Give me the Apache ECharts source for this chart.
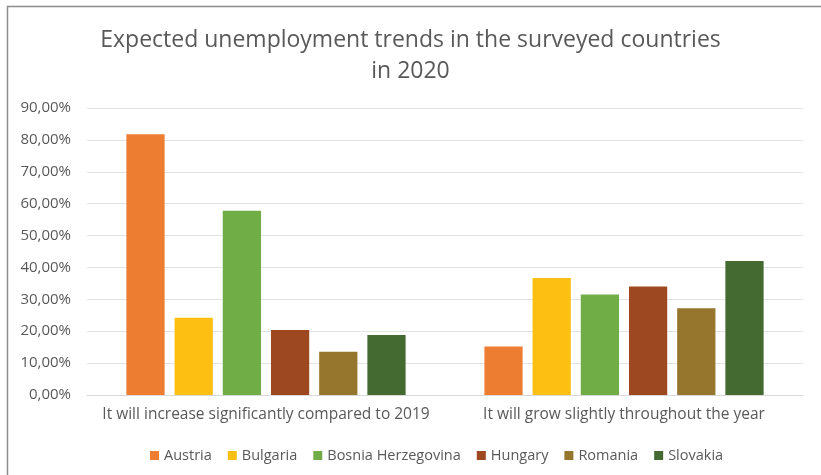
<!DOCTYPE html>
<html>
<head>
<meta charset="utf-8">
<script src="https://cdn.jsdelivr.net/npm/echarts@6/dist/echarts.min.js"></script>
<style>
  html, body { margin: 0; padding: 0; background: #fff; }
  #main { width: 821px; height: 475px; }
</style>
</head>
<body>
<div id="main"></div>
<script>
// categories on the x axis
var categories = ['It will increase significantly compared to 2019', 'It will grow slightly throughout the year'];
var countries = ['Austria', 'Bulgaria', 'Bosnia Herzegovina', 'Hungary', 'Romania', 'Slovakia'];
var colors = ['#ED7D31', '#FDBF12', '#70AD47', '#9E4822', '#96752D', '#446A31'];

// percent values per country, [increase significantly, grow slightly]
var austria = [81.8, 15.2];
var bulgaria = [24.2, 36.7];
var bosnia = [57.8, 31.5];
var hungary = [20.4, 34.0];
var romania = [13.6, 27.2];
var slovakia = [18.8, 42.0];

var seriesData = [austria, bulgaria, bosnia, hungary, romania, slovakia];

var myChart = echarts.init(document.getElementById('main'));

var series = countries.map(function (name, i) {
    return {
        name: name,
        type: 'bar',
        data: seriesData[i],
        itemStyle: { color: colors[i] },
        barGap: '26%',
        barCategoryGap: '22%'
    };
});

myChart.setOption({
    animation: false,
    textStyle: { fontFamily: 'Open Sans' },
    title: {
        text: 'Expected unemployment trends in the surveyed countries\nin 2020',
        left: 'center',
        top: 20,
        textStyle: {
            fontFamily: 'Open Sans',
            fontSize: 23,
            fontWeight: 'normal',
            color: '#595959',
            lineHeight: 31
        }
    },
    legend: {
        data: countries,
        bottom: 7,
        left: 145,
        itemWidth: 9,
        itemHeight: 9,
        itemGap: 16,
        icon: 'rect',
        textStyle: { fontSize: 14.5, color: '#595959' }
    },
    grid: { left: 87, right: 18, top: 108, bottom: 80 },
    xAxis: {
        type: 'category',
        data: categories,
        axisLine: { lineStyle: { color: '#d9d9d9' } },
        axisTick: { show: false },
        axisLabel: { fontSize: 15.5, color: '#595959', margin: 12, interval: 0, hideOverlap: false }
    },
    yAxis: {
        type: 'value',
        min: 0,
        max: 90,
        interval: 10,
        axisLine: { show: false },
        axisTick: { show: false },
        splitLine: { lineStyle: { color: '#e3e3e3', width: 1 } },
        axisLabel: {
            fontSize: 15,
            color: '#595959',
            margin: 16,
            formatter: function (v) { return v.toFixed(2).replace('.', ',') + '%'; }
        }
    },
    graphic: [{
        type: 'rect',
        shape: { x: 7.5, y: 6.5, width: 830, height: 480 },
        style: { fill: 'none', stroke: '#8c8c8c', lineWidth: 1.5 },
        silent: true
    }],
    series: series
});
</script>
</body>
</html>
